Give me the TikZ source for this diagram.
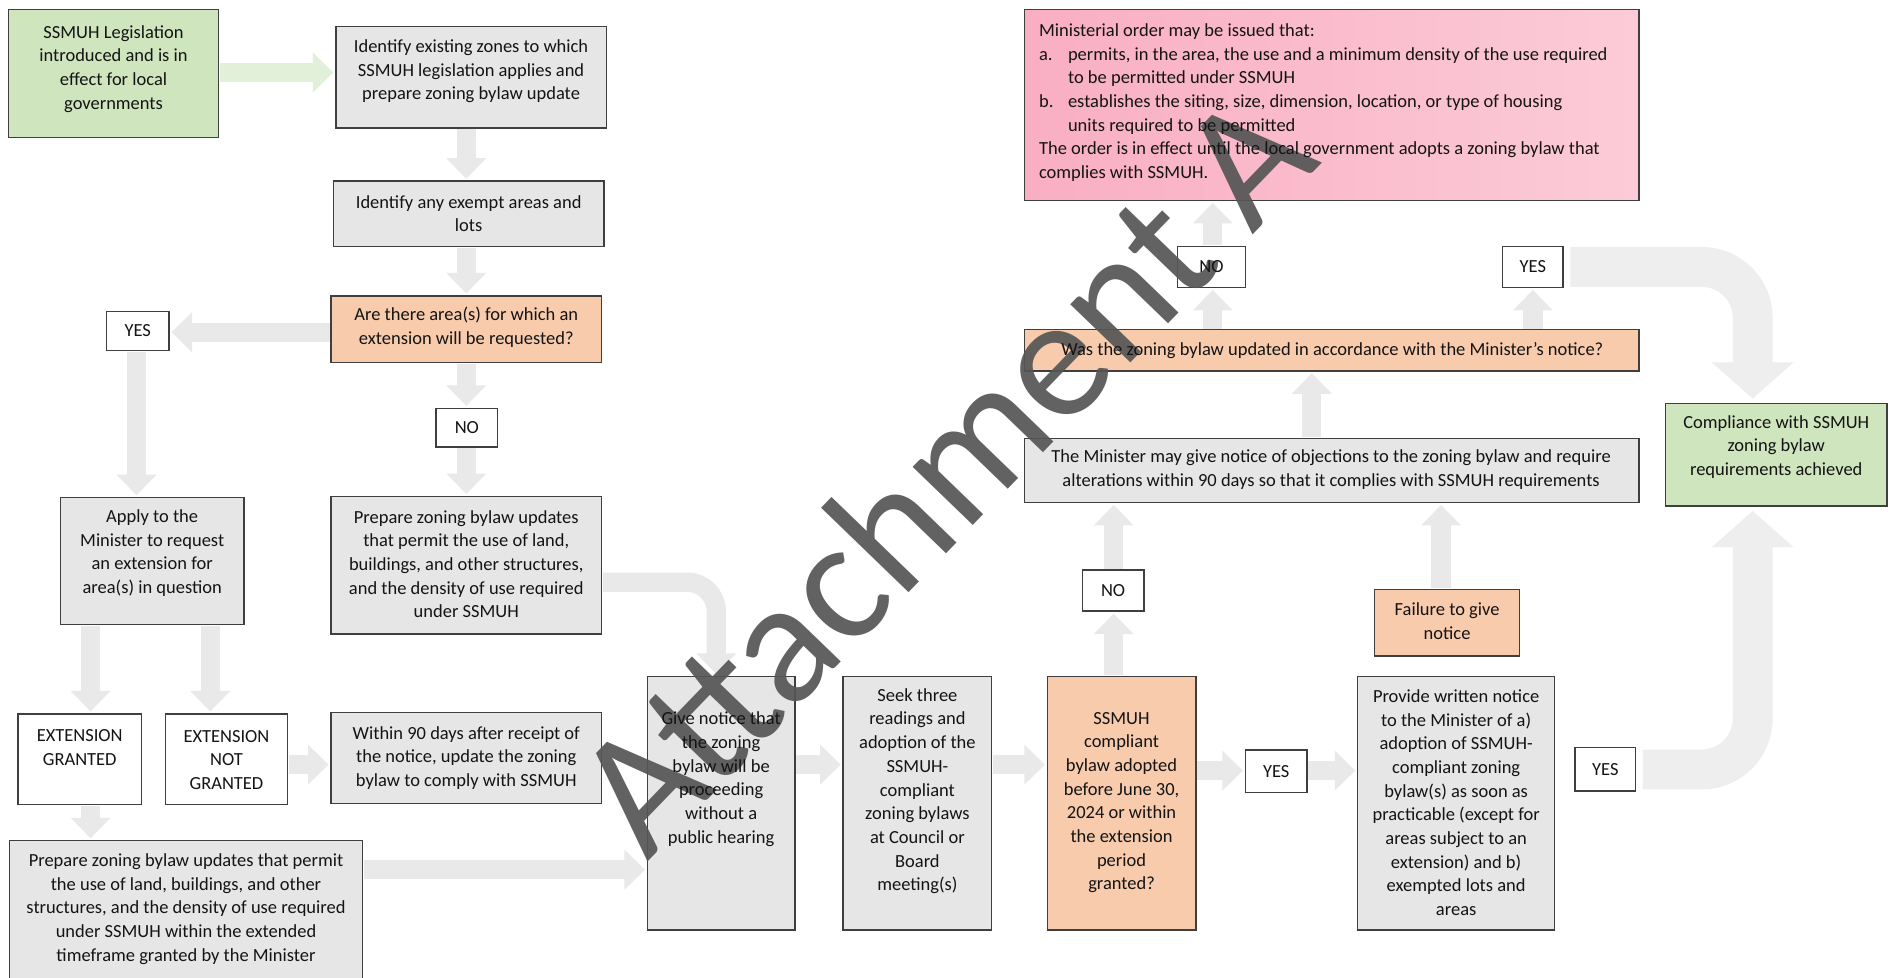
\documentclass[tikz,border=0pt]{standalone}
\usepackage{fontspec}
\setmainfont{Carlito}
\usetikzlibrary{arrows.meta}

\definecolor{boxgray}{HTML}{E6E6E6}
\definecolor{boxedge}{HTML}{3F3F3F}
\definecolor{peach}{HTML}{F8CBAD}
\definecolor{leaf}{HTML}{CFE5BE}
\definecolor{rosea}{HTML}{F9AEC3}
\definecolor{roseb}{HTML}{FCCBD8}
\definecolor{flow}{HTML}{E9E9E9}
\definecolor{flowlight}{HTML}{EEEEEE}
\definecolor{flowgreen}{HTML}{E2EFD9}
\definecolor{wmgray}{HTML}{555555}

% box: name, style, left, top, right, bottom
\newcommand\boxat[6]{%
  \node[#2, minimum width={(#5)-(#3)}, minimum height={(#6)-(#4)}]
    (#1) at ({((#3)+(#5))/2},{((#4)+(#6))/2}) {};}

\begin{document}
\begin{tikzpicture}[x=1pt,y=-1pt,
  base/.style={draw=boxedge, line width=1.2pt, inner sep=0pt, outer sep=0pt},
  graybox/.style={base, fill=boxgray},
  whitebox/.style={base, fill=white},
  peachbox/.style={base, fill=peach},
  leafbox/.style={base, fill=leaf},
  rosebox/.style={base, left color=rosea, right color=roseb},
  txt/.style={align=center, inner sep=0pt, text=black!92,
    font=\fontsize{15.3}{19.6}\selectfont},
  flowarrow/.style={draw=flow, line width=16pt,
    -{Triangle[width=32pt,length=17pt]}, shorten <=1pt, shorten >=2pt},
  greenarrow/.style={flowarrow, draw=flowgreen},
  bigarrow/.style={draw=flowlight, line width=33pt, rounded corners=42pt,
    -{Triangle[width=66pt,length=30pt]}, shorten <=6pt, shorten >=4pt},
  watermark/.style={rotate=46, inner sep=0pt, text=wmgray, opacity=0.92,
    font=\fontsize{145}{145}\selectfont}
]

\fill[white] (0,0) rectangle (1568,809);
\useasboundingbox (0,0) rectangle (1568,809);

% ---------- boxes ----------
\boxat{start}{leafbox}{7}{8}{181}{114}
\boxat{idzones}{graybox}{278}{22}{502}{106}
\boxat{idexempt}{graybox}{276}{150}{500}{204}
\boxat{askext}{peachbox}{274}{245}{498}{300}
\boxat{yesA}{whitebox}{88}{258}{140}{290}
\boxat{noA}{whitebox}{361}{338}{412}{370}
\boxat{apply}{graybox}{50}{412}{202}{517}
\boxat{prepare}{graybox}{274}{411}{498}{525}
\boxat{granted}{whitebox}{15}{591}{117}{666}
\boxat{notgranted}{whitebox}{137}{591}{238}{666}
\boxat{within}{graybox}{274}{590}{498}{665}
\boxat{prepext}{graybox}{8}{696}{300}{818}
\boxat{givenotice}{graybox}{536}{560}{658}{770}
\boxat{readings}{graybox}{698}{560}{821}{770}
\boxat{adopted}{peachbox}{867}{560}{990}{770}
\boxat{yesB}{whitebox}{1031}{621}{1082}{656}
\boxat{written}{graybox}{1124}{560}{1287}{770}
\boxat{yesC}{whitebox}{1304}{619}{1354}{655}
\boxat{failure}{peachbox}{1138}{488}{1258}{543}
\boxat{noB}{whitebox}{896}{472}{947}{506}
\boxat{objections}{graybox}{848}{363}{1357}{416}
\boxat{updated}{peachbox}{848}{273}{1357}{307}
\boxat{noC}{whitebox}{975}{204}{1031}{238}
\boxat{yesD}{whitebox}{1244}{204}{1294}{238}
\boxat{order}{rosebox}{848}{8}{1357}{166}
\boxat{done}{leafbox}{1379}{334}{1562}{419}

% column and row guides for the connectors
\coordinate (x75) at (75,0);
\coordinate (x113) at (113,0);
\coordinate (x174) at (174,0);
\coordinate (x386) at (386,0);
\coordinate (x593) at (593,0);
\coordinate (x922) at (922,0);
\coordinate (x1004) at (1004,0);
\coordinate (x1086) at (1086,0);
\coordinate (x1193) at (1193,0);
\coordinate (x1269) at (1269,0);
\coordinate (x1451) at (1451,0);
\coordinate (y60) at (0,60);
\coordinate (y275) at (0,275);
\coordinate (y482) at (0,482);
\coordinate (y633) at (0,633);
\coordinate (y638) at (0,638);
\coordinate (y720) at (0,720);

% ---------- connectors ----------
\draw[greenarrow] (start.east |- y60) -- (idzones.west |- y60);
\draw[flowarrow] (idzones.south -| x386) -- (idexempt.north -| x386);
\draw[flowarrow] (idexempt.south -| x386) -- (askext.north -| x386);
\draw[flowarrow] (askext.west |- y275) -- (yesA.east |- y275);
\draw[flowarrow] (askext.south -| x386) -- (noA.north -| x386);
\draw[flowarrow] (noA.south -| x386) -- (prepare.north -| x386);
\draw[flowarrow] (yesA.south -| x113) -- (apply.north -| x113);
\draw[flowarrow] (apply.south -| x75) -- (granted.north -| x75);
\draw[flowarrow] (apply.south -| x174) -- (notgranted.north -| x174);
\draw[flowarrow] (notgranted.east |- y633) -- (within.west |- y633);
\draw[flowarrow] (granted.south -| x75) -- (prepext.north -| x75);
\draw[flowarrow] (prepext.east |- y720) -- (givenotice.west |- y720);
\draw[flowarrow, rounded corners=24pt] (prepare.east |- y482) -- (x593 |- y482)
  -- (givenotice.north -| x593);
\draw[flowarrow] (givenotice.east |- y633) -- (readings.west |- y633);
\draw[flowarrow] (readings.east |- y633) -- (adopted.west |- y633);
\draw[flowarrow] (adopted.east |- y638) -- (yesB.west |- y638);
\draw[flowarrow] (yesB.east |- y638) -- (written.west |- y638);
\draw[flowarrow] (adopted.north -| x922) -- (noB.south -| x922);
\draw[flowarrow] (noB.north -| x922) -- (objections.south -| x922);
\draw[flowarrow] (failure.north -| x1193) -- (objections.south -| x1193);
\draw[flowarrow] (objections.north -| x1086) -- (updated.south -| x1086);
\draw[flowarrow] (updated.north -| x1004) -- (noC.south -| x1004);
\draw[flowarrow] (noC.north -| x1004) -- (order.south -| x1004);
\draw[flowarrow] (updated.north -| x1269) -- (yesD.south -| x1269);
\draw[bigarrow] (yesD.east) -- (yesD.east -| x1451) -- (done.north -| x1451);
\draw[bigarrow] (yesC.east) -- (yesC.east -| x1451) -- (done.south -| x1451);

% ---------- watermark ----------
\node[watermark] (stamp) at (780,390) {Attachment A};

% ---------- texts ----------
\node[txt] (start-t) at (94,57) {SSMUH Legislation\\introduced and is in\\effect for local\\governments};
\node[txt] (idzones-t) at (390,59) {Identify existing zones to which\\SSMUH legislation applies and\\prepare zoning bylaw update};
\node[txt] (idexempt-t) at (388,177) {Identify any exempt areas and\\lots};
\node[txt] (askext-t) at (386,271) {Are there area(s) for which an\\extension will be requested?};
\node[txt] (yesA-t) at (yesA) {YES};
\node[txt] (noA-t) at (noA) {NO};
\node[txt] (apply-t) at (126,458) {Apply to the\\Minister to request\\an extension for\\area(s) in question};
\node[txt] (prepare-t) at (386,467) {Prepare zoning bylaw updates\\that permit the use of land,\\buildings, and other structures,\\and the density of use required\\under SSMUH};
\node[txt] (granted-t) at (66,619) {EXTENSION\\GRANTED};
\node[txt] (notgranted-t) at (187.5,629) {EXTENSION\\NOT\\GRANTED};
\node[txt] (within-t) at (386,627.5) {Within 90 days after receipt of\\the notice, update the zoning\\bylaw to comply with SSMUH};
\node[txt] (prepext-t) at (154,752.5) {Prepare zoning bylaw updates that permit\\the use of land, buildings, and other\\structures, and the density of use required\\under SSMUH within the extended\\timeframe granted by the Minister};
\node[txt] (givenotice-t) at (597,645) {Give notice that\\the zoning\\bylaw will be\\proceeding\\without a\\public hearing};
\node[txt] (readings-t) at (759.5,655) {Seek three\\readings and\\adoption of the\\SSMUH-\\compliant\\zoning bylaws\\at Council or\\Board\\meeting(s)};
\node[txt] (adopted-t) at (928.5,664.5) {SSMUH\\compliant\\bylaw adopted\\before June 30,\\2024 or within\\the extension\\period\\granted?};
\node[txt] (yesB-t) at (yesB) {YES};
\node[txt] (written-t) at (1205.5,664.5) {Provide written notice\\to the Minister of a)\\adoption of SSMUH-\\compliant zoning\\bylaw(s) as soon as\\practicable (except for\\areas subject to an\\extension) and b)\\exempted lots and\\areas};
\node[txt] (yesC-t) at (yesC) {YES};
\node[txt] (failure-t) at (1198,514) {Failure to give\\notice};
\node[txt] (noB-t) at (noB) {NO};
\node[txt] (objections-t) at (1102,389) {The Minister may give notice of objections to the zoning bylaw and require\\alterations within 90 days so that it complies with SSMUH requirements};
\node[txt] (updated-t) at (1103,290) {Was the zoning bylaw updated in accordance with the Minister’s notice?};
\node[txt] (noC-t) at (noC) {NO};
\node[txt] (yesD-t) at (yesD) {YES};
\node[txt, align=left, anchor=west] (order-t) at (860,85) {Ministerial order may be issued that:\\
\makebox[24pt][l]{a.}permits, in the area, the use and a minimum density of the use required\\
\hspace*{24pt}to be permitted under SSMUH\\
\makebox[24pt][l]{b.}establishes the siting, size, dimension, location, or type of housing\\
\hspace*{24pt}units required to be permitted\\
The order is in effect until the local government adopts a zoning bylaw that\\
complies with SSMUH.};
\node[txt] (done-t) at (1470.5,370) {Compliance with SSMUH\\zoning bylaw\\requirements achieved};

\end{tikzpicture}
\end{document}
